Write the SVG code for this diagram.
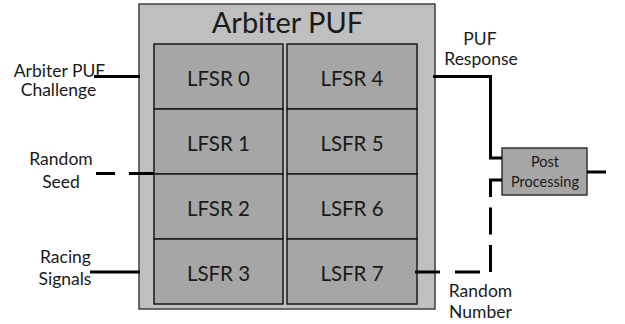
<svg xmlns="http://www.w3.org/2000/svg" width="625" height="324" viewBox="0 0 625 324">
  <style>
    .lbl { font-family: Lato, "Open Sans", "Liberation Sans", sans-serif; fill: #1a1a1a; text-anchor: middle; }
    .title { font-size: 29px; }
    .cell { fill: #a6a6a6; stroke: #1a1a1a; stroke-width: 1.5; }
    .cell-text { font-size: 20.5px; }
    .side { font-size: 17.5px; }
    .small { font-size: 14.5px; }
    .wire { fill: none; stroke: #000; stroke-width: 3; }
  </style>
  <rect width="625" height="324" fill="#fff"/>

  <!-- Arbiter PUF container -->
  <g id="arbiter-puf">
    <rect x="139" y="4" width="296" height="305" fill="#bfbfbf" stroke="#404040" stroke-width="1.5"/>
    <text class="lbl title" x="287.5" y="33">Arbiter PUF</text>
  </g>

  <!-- Left column of registers -->
  <g id="lfsr0"><rect class="cell" x="154" y="44" width="129" height="65"/><text class="lbl cell-text" x="218.5" y="86">LFSR 0</text></g>
  <g id="lfsr1"><rect class="cell" x="154" y="109" width="129" height="65"/><text class="lbl cell-text" x="218.5" y="151">LFSR 1</text></g>
  <g id="lfsr2"><rect class="cell" x="154" y="174" width="129" height="65"/><text class="lbl cell-text" x="218.5" y="216">LFSR 2</text></g>
  <g id="lsfr3"><rect class="cell" x="154" y="239" width="129" height="65"/><text class="lbl cell-text" x="218.5" y="281">LSFR 3</text></g>

  <!-- Right column of registers -->
  <g id="lfsr4"><rect class="cell" x="287" y="44" width="130" height="65"/><text class="lbl cell-text" x="352" y="86">LFSR 4</text></g>
  <g id="lsfr5"><rect class="cell" x="287" y="109" width="130" height="65"/><text class="lbl cell-text" x="352" y="151">LSFR 5</text></g>
  <g id="lsfr6"><rect class="cell" x="287" y="174" width="130" height="65"/><text class="lbl cell-text" x="352" y="216">LSFR 6</text></g>
  <g id="lsfr7"><rect class="cell" x="287" y="239" width="130" height="65"/><text class="lbl cell-text" x="352" y="281">LSFR 7</text></g>

  <!-- Post processing block -->
  <g id="post-processing">
    <rect x="502" y="148" width="85" height="47" fill="#a6a6a6" stroke="#333" stroke-width="1.5"/>
    <text class="lbl small" x="545" y="167">Post</text>
    <text class="lbl small" x="545" y="187">Processing</text>
  </g>

  <!-- Signal labels -->
  <g id="challenge-label">
    <text class="lbl side" x="59.5" y="77">Arbiter PUF</text>
    <text class="lbl side" x="58.5" y="96">Challenge</text>
  </g>
  <g id="seed-label">
    <text class="lbl side" x="61" y="165">Random</text>
    <text class="lbl side" x="61" y="188">Seed</text>
  </g>
  <g id="racing-label">
    <text class="lbl side" x="65.5" y="263">Racing</text>
    <text class="lbl side" x="65" y="285">Signals</text>
  </g>
  <g id="response-label">
    <text class="lbl side" x="480" y="45">PUF</text>
    <text class="lbl side" x="481" y="65">Response</text>
  </g>
  <g id="number-label">
    <text class="lbl side" x="480.5" y="297">Random</text>
    <text class="lbl side" x="480.5" y="318">Number</text>
  </g>

  <!-- Connectors -->
  <g id="connectors">
    <path class="wire" d="M94 76.5 H140"/>
    <path class="wire" d="M96 173.5 H154" stroke-dasharray="19 14 25"/>
    <path class="wire" d="M90 272 H140"/>
    <path class="wire" d="M433 76.5 H490.5 V158 H502"/>
    <path class="wire" d="M587 172 H606"/>
    <path class="wire" d="M415 272 H490.5" stroke-dasharray="25 15"/>
    <path class="wire" d="M490.5 272 V180 H502" stroke-dasharray="27 10.5 27 10.5 30"/>
  </g>
</svg>
